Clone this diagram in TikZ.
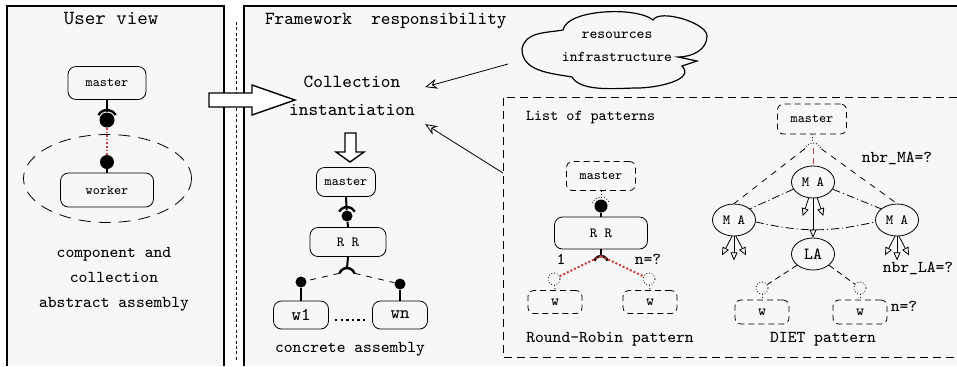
\documentclass[tikz,border=0pt]{standalone}
\usepackage{tikz}
\usetikzlibrary{shapes.geometric,arrows.meta}
\definecolor{panelgray}{RGB}{247,247,247}
\definecolor{linkred}{RGB}{205,60,60}

\begin{document}
\begin{tikzpicture}[x=0.5pt, y=-0.5pt,
    titletext/.style={font=\ttfamily\fontsize{9.2}{14}\selectfont},
    labeltext/.style={font=\ttfamily\fontsize{8.3}{12.5}\selectfont},
    smalltext/.style={font=\ttfamily\fontsize{6.7}{8}\selectfont},
    comp/.style={draw, rounded corners=4pt, inner sep=0pt, smalltext},
    pcomp/.style={comp, rounded corners=3pt, dash pattern=on 3pt off 2pt},
    ball/.style={circle, fill=black, inner sep=0pt, minimum size=5.5pt},
    hole/.style={circle, draw, densely dotted, inner sep=0pt, minimum size=6pt},
    agent/.style={ellipse, draw, inner sep=0pt, minimum width=21.5pt, minimum height=16pt,
        font=\ttfamily\fontsize{7}{8}\selectfont},
    sock/.style={line width=1.2pt},
    stem/.style={line width=1pt},
    bigarrow/.style={draw, fill=white, line width=0.7pt},
    openarrow/.style={-{Stealth[open, length=6pt, width=5pt]}},
    tiparrow/.style={-{Triangle[open, length=4pt, width=3.5pt]}},
    dashdot/.style={dash pattern=on 4pt off 1.5pt on 0.6pt off 1.5pt}]

    \useasboundingbox (0,0) rectangle (957,366);

    % the two panels
    \fill[panelgray] (7,6) rectangle (224,366);
    \draw[line width=0.6pt] (7,366) |- (224,6) -- (224,366);
    \fill[panelgray] (244,6) rectangle (957,366);
    \draw[line width=0.6pt] (244,366) |- (957,6);
    \draw[dash pattern=on 1.5pt off 1.2pt] (236,22) -- (236,360);

    % user view
    \node[font=\ttfamily\fontsize{10}{12}\selectfont] (userview) at (111,18) {User view};
    \node[comp, minimum width=39pt, minimum height=16.5pt] (master0) at (107,83) {master};
    \node[comp, minimum width=46.5pt, minimum height=17pt] (worker) at (107,190) {worker};
    \node[ball, minimum size=7.5pt] (ball0) at (107,120) {};
    \node[ball, minimum size=7pt] (ball1) at (107,162) {};
    \draw[stem] (master0.south) -- (ball0);
    \draw[sock] (ball0) ++(150:5pt) arc[start angle=150, end angle=30, radius=5pt];
    \draw[linkred, densely dotted, line width=0.8pt] (ball0.south) -- (ball1.north);
    \draw[stem] (ball1) -- (worker.north);
    \draw[dash pattern=on 6pt off 4pt] (107.5,178.5) ellipse [x radius=42pt, y radius=22pt];
    \node[labeltext, align=center] (abstract) at (114,279) {component and\\collection\\abstract assembly};

    \draw[bigarrow] (209,93) -- (252,93) -- (252,85) -- (295,100) -- (252,115) -- (252,107) -- (209,107) -- cycle;

    % framework side
    \node[titletext, anchor=west] (framework) at (258,21) {Framework\ \ responsibility};
    \node[titletext, align=center, inner xsep=5pt, inner ysep=4pt] (coll) at (352,96) {Collection\\instantiation};
    \draw[bigarrow] (345,133) -- (356,133) -- (356,152) -- (364,152) -- (350,162) -- (336,152) -- (345,152) -- cycle;

    \node[comp, minimum width=29.5pt, minimum height=14.5pt] (master1) at (346,182) {master};
    \node[comp, minimum width=38pt, minimum height=14.5pt, font=\ttfamily\fontsize{7}{8}\selectfont] (rr1) at (348,242) {R R};
    \node[ball] (ball2) at (347,216) {};
    \draw[stem] (master1.south) -- (ball2);
    \draw[sock] (ball2) ++(150:4.5pt) arc[start angle=150, end angle=30, radius=4.5pt];
    \draw[stem] (ball2) -- (rr1.north);
    \coordinate (sock1) at (347,276);
    \draw[stem] (rr1.south) -- ([yshift=4pt]sock1);
    \draw[sock] ([shift={(160:4pt)}]sock1) arc[start angle=160, end angle=20, radius=4pt];
    \node[ball] (ball3) at (301,282) {};
    \node[ball] (ball4) at (400,284) {};
    \draw[dashed] ([shift={(160:4pt)}]sock1) -- (ball3);
    \draw[dashed] ([shift={(20:4pt)}]sock1) -- (ball4);
    \node[comp, minimum width=27.5pt, minimum height=14pt, font=\ttfamily\fontsize{9}{10}\selectfont] (w1) at (301,315) {w1};
    \node[comp, minimum width=27.5pt, minimum height=14pt, font=\ttfamily\fontsize{9}{10}\selectfont] (wn) at (400,315) {wn};
    \draw[stem] (ball3) -- (w1.north);
    \draw[stem] (ball4) -- (wn.north);
    \draw[line width=1.2pt, dash pattern=on 1.2pt off 1.6pt, shorten <=3pt, shorten >=3pt] ([yshift=-2.5pt]w1.east) -- ([yshift=-2.5pt]wn.west);
    \node[labeltext] (concrete) at (350,349) {concrete assembly};

    % resources
    \draw[line width=0.6pt] (522,49) to[out=80,in=190] (563,30)
        to[out=80,in=140,looseness=0.6] (653,20)
        to[out=60,in=90,looseness=0.6] (707,36)
        to[out=-90,in=0] (678,57) -- (697,61) -- (682,66)
        to[out=-45,in=0] (637,88)
        to[out=180,in=-60,looseness=0.7] (572,77)
        to[out=170,in=-90] cycle;
    \node[align=center, font=\ttfamily\fontsize{7.4}{11.5}\selectfont] (resources) at (617,47) {resources\\infrastructure};
    \coordinate (cloudout) at (508,64);
    \draw[openarrow] (cloudout) -- (coll.7);

    % list of patterns
    \draw[dash pattern=on 4pt off 2.5pt] (957,97) -| (503,357) -- (957,357);
    \coordinate (patterns) at (503,173);
    \node[font=\ttfamily\fontsize{7.6}{9}\selectfont, anchor=west] (listp) at (519,117) {List of patterns};
    \draw[openarrow] (patterns) -- (coll.-21);

    % round robin pattern
    \node[pcomp, minimum width=34.5pt, minimum height=14.5pt] (master2) at (601,176) {master};
    \node[ball, minimum size=6.5pt] (ball5) at (601,206) {};
    \draw[densely dotted] (master2.south) -- ([yshift=4.5pt]ball5.center);
    \draw[densely dotted] ([shift={(160:4.5pt)}]ball5.center) arc[start angle=160, end angle=20, radius=4.5pt];
    \node[comp, minimum width=46.5pt, minimum height=16pt, font=\ttfamily\fontsize{7}{8}\selectfont] (rr2) at (601,233) {R R};
    \draw[stem] (ball5) -- (rr2.north);
    \coordinate (sock2) at (601,263);
    \draw[stem] (rr2.south) -- ([yshift=3.5pt]sock2);
    \draw[sock] ([shift={(160:3.5pt)}]sock2) arc[start angle=160, end angle=20, radius=3.5pt];
    \node[hole] (hole1) at (554,279) {};
    \node[hole] (hole2) at (649,279) {};
    \draw[linkred, densely dotted, line width=1pt] ([yshift=3.5pt]sock2) -- (hole1);
    \draw[linkred, densely dotted, line width=1pt] ([yshift=3.5pt]sock2) -- (hole2);
    \node[pcomp, minimum width=27pt, minimum height=11.5pt, font=\ttfamily\fontsize{7.5}{8}\selectfont] (w2) at (555,302) {w};
    \node[pcomp, minimum width=27pt, minimum height=11.5pt, font=\ttfamily\fontsize{7.5}{8}\selectfont] (w3) at (650,302) {w};
    \draw[densely dotted] (hole1) -- (w2.north);
    \draw[densely dotted] (hole2) -- (w3.north);
    \node[labeltext] (one) at (561,259) {1};
    \node[labeltext] (nrr) at (648,259) {n=?};
    \node[labeltext] (rrpattern) at (610,339) {Round-Robin pattern};

    % diet pattern
    \node[pcomp, minimum width=34.5pt, minimum height=15pt] (master3) at (812,119) {master};
    \coordinate (sock3) at (813,152);
    \draw[densely dotted] (master3.south) -- ([yshift=4.5pt]sock3);
    \draw[densely dotted] ([shift={(160:4.5pt)}]sock3) arc[start angle=160, end angle=20, radius=4.5pt];
    \node[agent] (ma) at (813,182) {M A};
    \node[agent] (mal) at (734,220) {M A};
    \node[agent] (mar) at (897,220) {M A};
    \node[agent, font=\ttfamily\fontsize{8.5}{9}\selectfont] (la) at (813,254) {LA};
    \draw[linkred, densely dashed] ([yshift=2pt]sock3) -- (ma.north);
    \draw[dashed] ([shift={(160:4.5pt)}]sock3) -- (mal.north);
    \draw[dashed] ([shift={(20:4.5pt)}]sock3) -- (mar.north);
    \draw[dashdot] (ma.200) -- (mal.35);
    \draw[dashdot] (ma.-20) -- (mar.145);
    \draw[dashdot] (mal.-5) to[bend right=13] (mar.185);
    \draw[tiparrow] (ma.south) -- (la.north);
    \draw[tiparrow] (ma.-105) -- ++(-6,18);
    \draw[tiparrow] (ma.-75) -- ++(6,18);
    \draw[tiparrow] (mal.-97) -- ++(-10,19);
    \draw[tiparrow] (mal.-90) -- ++(0,24);
    \draw[tiparrow] (mal.-83) -- ++(10,19);
    \draw[tiparrow] (mar.-97) -- ++(-10,19);
    \draw[tiparrow] (mar.-90) -- ++(0,24);
    \draw[tiparrow] (mar.-83) -- ++(10,19);
    \node[labeltext] (nbrma) at (897,158) {nbr\_MA=?};
    \node[labeltext] (nbrla) at (918,268) {nbr\_LA=?};
    \node[hole] (hole3) at (762,288) {};
    \node[hole] (hole4) at (860,288) {};
    \draw[densely dashed] (la.-145) -- (hole3);
    \draw[densely dashed] (la.-35) -- (hole4);
    \node[pcomp, minimum width=27pt, minimum height=12pt, font=\ttfamily\fontsize{7.5}{8}\selectfont] (w4) at (762,312) {w};
    \node[pcomp, minimum width=27pt, minimum height=12pt, font=\ttfamily\fontsize{7.5}{8}\selectfont] (w5) at (860,312) {w};
    \draw[densely dotted] (hole3) -- (w4.north);
    \draw[densely dotted] (hole4) -- (w5.north);
    \node[labeltext] (ndiet) at (904,306) {n=?};
    \node[labeltext] (dietpattern) at (823,339) {DIET pattern};
\end{tikzpicture}
\end{document}
